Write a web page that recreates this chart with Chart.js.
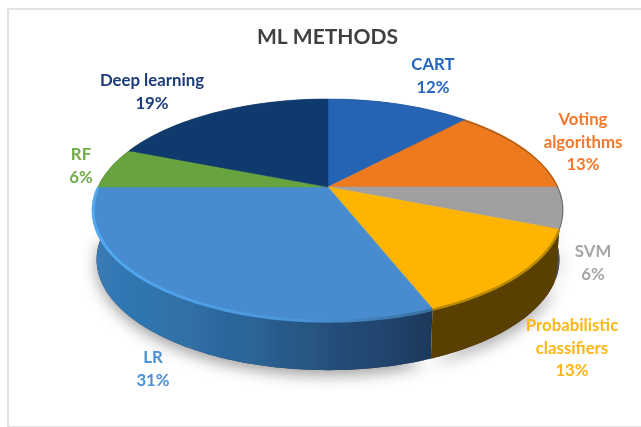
<!DOCTYPE html>
<html>
<head>
<meta charset="utf-8">
<style>
  html, body { margin: 0; padding: 0; background: #fff; overflow: hidden; }
  #frame { position: absolute; left: 7px; top: 8px; width: 700px; height: 416px; border: 2px solid #e2e2e2; }
  canvas { position: absolute; left: 0; top: 0; filter: blur(0.4px); }
</style>
<script src="https://cdn.jsdelivr.net/npm/chart.js@4"></script>
</head>
<body>
<div id="frame"></div>
<canvas id="chart" width="641" height="427"></canvas>
<script>
const categories = ["CART", "Voting algorithms", "SVM", "Probabilistic classifiers", "LR", "RF", "Deep learning"];
const shares = [12, 13, 6, 13, 31, 6, 19];

const topColors = ["#2563b5", "#ee7a20", "#a0a0a0", "#ffb500", "#478cce", "#67a33f", "#0f3a6e"];
const labelColors = ["#2666bd", "#f4772a", "#a6a6a6", "#ffb612", "#4a90d6", "#70ad47", "#1b3c7a"];
const rimColors = ["#2a62a8", "#7a4a14", "#555555", "#b98a00", null, "#5f9a3c", "#123d70"];

// label text lines and where they sit
const labelLines = [["CART"], ["Voting", "algorithms"], ["SVM"], ["Probabilistic", "classifiers"], ["LR"], ["RF"], ["Deep learning"]];
const labelSpots = [[433, 65], [583, 120], [593, 252], [572, 326], [153, 358], [81, 155], [152, 81]];

// the pie is tilted: a circle seen in perspective, with the hub above the middle of the ellipse
const hubX = 328, hubY = 187, spreadX = 230, spreadY = 106, tilt = 0.204, depth = 50, taper = 0.015;

function project(angle, drop) {
  const u = Math.cos(angle), v = Math.sin(angle);
  const w = 1 - tilt * v;
  return [hubX + spreadX * u / w * (1 - taper * drop), hubY + spreadY * v / w + depth * drop];
}

function edgePoints(arc, drop) {
  const pts = [];
  const steps = Math.max(4, Math.ceil((arc.endAngle - arc.startAngle) * 40));
  for (let i = 0; i <= steps; i++) {
    pts.push(project(arc.startAngle + (arc.endAngle - arc.startAngle) * i / steps, drop));
  }
  return pts;
}

function tracePoints(ctx, pts) {
  pts.forEach((p, i) => (i ? ctx.lineTo(p[0], p[1]) : ctx.moveTo(p[0], p[1])));
}

function sideFill(ctx, index) {
  const g = ctx.createLinearGradient(95, 0, 565, 0);
  if (index === 4) {
    // LR side, faint vertical bands getting darker to the right
    [[0, "#3a7bb6"], [0.06, "#2f77b3"], [0.12, "#2f74ad"], [0.2, "#3270a6"], [0.26, "#2a689f"],
     [0.34, "#2c6496"], [0.4, "#27598a"], [0.46, "#285681"], [0.52, "#234c78"], [0.6, "#21466f"],
     [0.66, "#1f3f66"], [0.72, "#1c3759"], [1, "#1a3050"]].forEach(s => g.addColorStop(s[0], s[1]));
    return g;
  }
  if (index === 3) return "#5a4000";
  if (index === 2) return "#4c4c4c";
  if (index === 1) return "#6a3c10";
  return "#333333";
}

const pie3d = {
  id: "pie3d",
  beforeDatasetDraw(chart) {
    const ctx = chart.ctx;
    const arcs = chart.getDatasetMeta(0).data;
    ctx.save();

    // soft shadow under the disc
    ctx.save();
    ctx.shadowColor = "rgba(0,0,0,0.38)";
    ctx.shadowBlur = 15;
    ctx.shadowOffsetY = 5;
    ctx.fillStyle = "#444";
    ctx.beginPath();
    arcs.forEach((arc, i) => tracePoints(ctx, edgePoints(arc, 1).slice(i ? 1 : 0)));
    ctx.closePath();
    ctx.fill();
    ctx.restore();

    // side wall
    arcs.forEach((arc, i) => {
      ctx.beginPath();
      tracePoints(ctx, edgePoints(arc, 0).concat(edgePoints(arc, 1).reverse()));
      ctx.closePath();
      ctx.fillStyle = sideFill(ctx, i);
      ctx.fill();
    });

    // top face
    arcs.forEach((arc, i) => {
      ctx.beginPath();
      ctx.moveTo(hubX, hubY);
      edgePoints(arc, 0).forEach(p => ctx.lineTo(p[0], p[1]));
      ctx.closePath();
      ctx.fillStyle = topColors[i];
      ctx.strokeStyle = topColors[i];
      ctx.lineWidth = 0.5;
      ctx.fill();
      ctx.stroke();
    });

    // bevel along the rim
    arcs.forEach((arc, i) => {
      ctx.beginPath();
      tracePoints(ctx, edgePoints(arc, 0.02));
      if (i === 4) {
        const g = ctx.createLinearGradient(93, 0, 433, 0);
        g.addColorStop(0, "#52aaf2");
        g.addColorStop(0.6, "#4a95da");
        g.addColorStop(1, "#3a6f9f");
        ctx.strokeStyle = g;
        ctx.lineWidth = 3;
      } else {
        ctx.strokeStyle = rimColors[i];
        ctx.lineWidth = i === 3 ? 2.5 : 0.8;
      }
      ctx.stroke();
    });

    // data labels
    ctx.font = "bold 16.8px Lato, sans-serif";
    ctx.textAlign = "center";
    ctx.textBaseline = "middle";
    arcs.forEach((arc, i) => {
      const lines = labelLines[i].concat(shares[i] + "%");
      ctx.fillStyle = labelColors[i];
      lines.forEach((line, n) => ctx.fillText(line, labelSpots[i][0], labelSpots[i][1] + n * 22.4));
    });

    ctx.restore();
    return false;
  }
};

new Chart(document.getElementById("chart"), {
  type: "pie",
  data: {
    labels: categories,
    datasets: [{ data: shares, backgroundColor: topColors, borderWidth: 0 }]
  },
  options: {
    responsive: false,
    animation: false,
    layout: { padding: { left: 14 } },
    plugins: {
      legend: { display: false },
      tooltip: { enabled: false },
      title: {
        display: true,
        text: "ML METHODS",
        color: "#404040",
        fullSize: false,
        font: { family: "Lato, sans-serif", size: 21, weight: "bold" },
        padding: { top: 25, bottom: 10 }
      }
    }
  },
  plugins: [pie3d]
});
</script>
</body>
</html>
